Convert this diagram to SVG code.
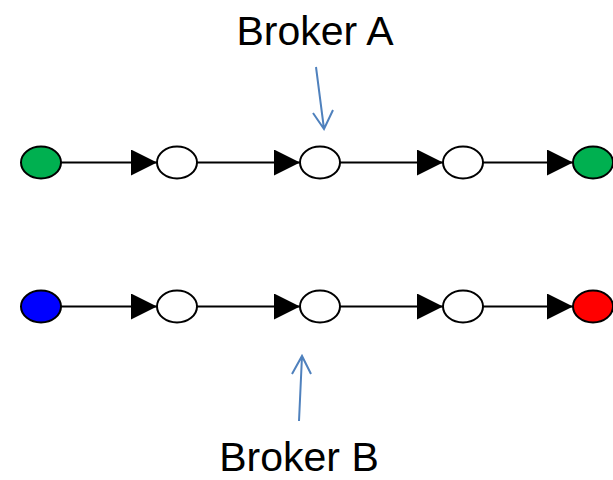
<svg xmlns="http://www.w3.org/2000/svg" width="613" height="480" viewBox="0 0 613 480">
<defs>
<style>
.node{stroke:#000;stroke-width:2}
.edge{stroke:#000;stroke-width:2;fill:none}
.ptr{stroke:#4F81BD;stroke-width:2;fill:none}
.lbl{font-family:"Liberation Sans",Arial,sans-serif;font-size:41px;fill:#000}
</style>
<marker id="ah" markerUnits="userSpaceOnUse" markerWidth="28" markerHeight="28" refX="26" refY="13" orient="auto">
<path d="M0,0 L26,13 L0,26 Z" fill="#000"/>
</marker>
</defs>
<rect width="613" height="480" fill="#fff"/>
<g id="connectors">
<path class="edge" d="M61,162.5 H157" marker-end="url(#ah)"/>
<path class="edge" d="M197,162.5 H300" marker-end="url(#ah)"/>
<path class="edge" d="M340,162.5 H443" marker-end="url(#ah)"/>
<path class="edge" d="M483,162.5 H573" marker-end="url(#ah)"/>
<path class="edge" d="M61,306.5 H157" marker-end="url(#ah)"/>
<path class="edge" d="M197,306.5 H300" marker-end="url(#ah)"/>
<path class="edge" d="M340,306.5 H443" marker-end="url(#ah)"/>
<path class="edge" d="M483,306.5 H573" marker-end="url(#ah)"/>
<path class="ptr" d="M316,67 L324,129 M313,113 L324,129 L333,110"/>
<path class="ptr" d="M299,421 L302,356 M292,374 L302,356 L311,374"/>
</g>
<g id="a1"><ellipse class="node" cx="41" cy="162.5" rx="20" ry="16" fill="#00B050"/></g>
<g id="a2"><ellipse class="node" cx="177" cy="162.5" rx="20" ry="16" fill="#fff"/></g>
<g id="a3"><ellipse class="node" cx="320" cy="162.5" rx="20" ry="16" fill="#fff"/></g>
<g id="a4"><ellipse class="node" cx="463" cy="162.5" rx="20" ry="16" fill="#fff"/></g>
<g id="a5"><ellipse class="node" cx="593" cy="162.5" rx="20" ry="16" fill="#00B050"/></g>
<g id="b1"><ellipse class="node" cx="41" cy="306.5" rx="20" ry="16" fill="#0000FF"/></g>
<g id="b2"><ellipse class="node" cx="177" cy="306.5" rx="20" ry="16" fill="#fff"/></g>
<g id="b3"><ellipse class="node" cx="320" cy="306.5" rx="20" ry="16" fill="#fff"/></g>
<g id="b4"><ellipse class="node" cx="463" cy="306.5" rx="20" ry="16" fill="#fff"/></g>
<g id="b5"><ellipse class="node" cx="593" cy="306.5" rx="20" ry="16" fill="#FF0000"/></g>
<g id="brokerA"><text class="lbl" x="315" y="45" text-anchor="middle">Broker A</text></g>
<g id="brokerB"><text class="lbl" x="299" y="471" text-anchor="middle">Broker B</text></g>
</svg>
